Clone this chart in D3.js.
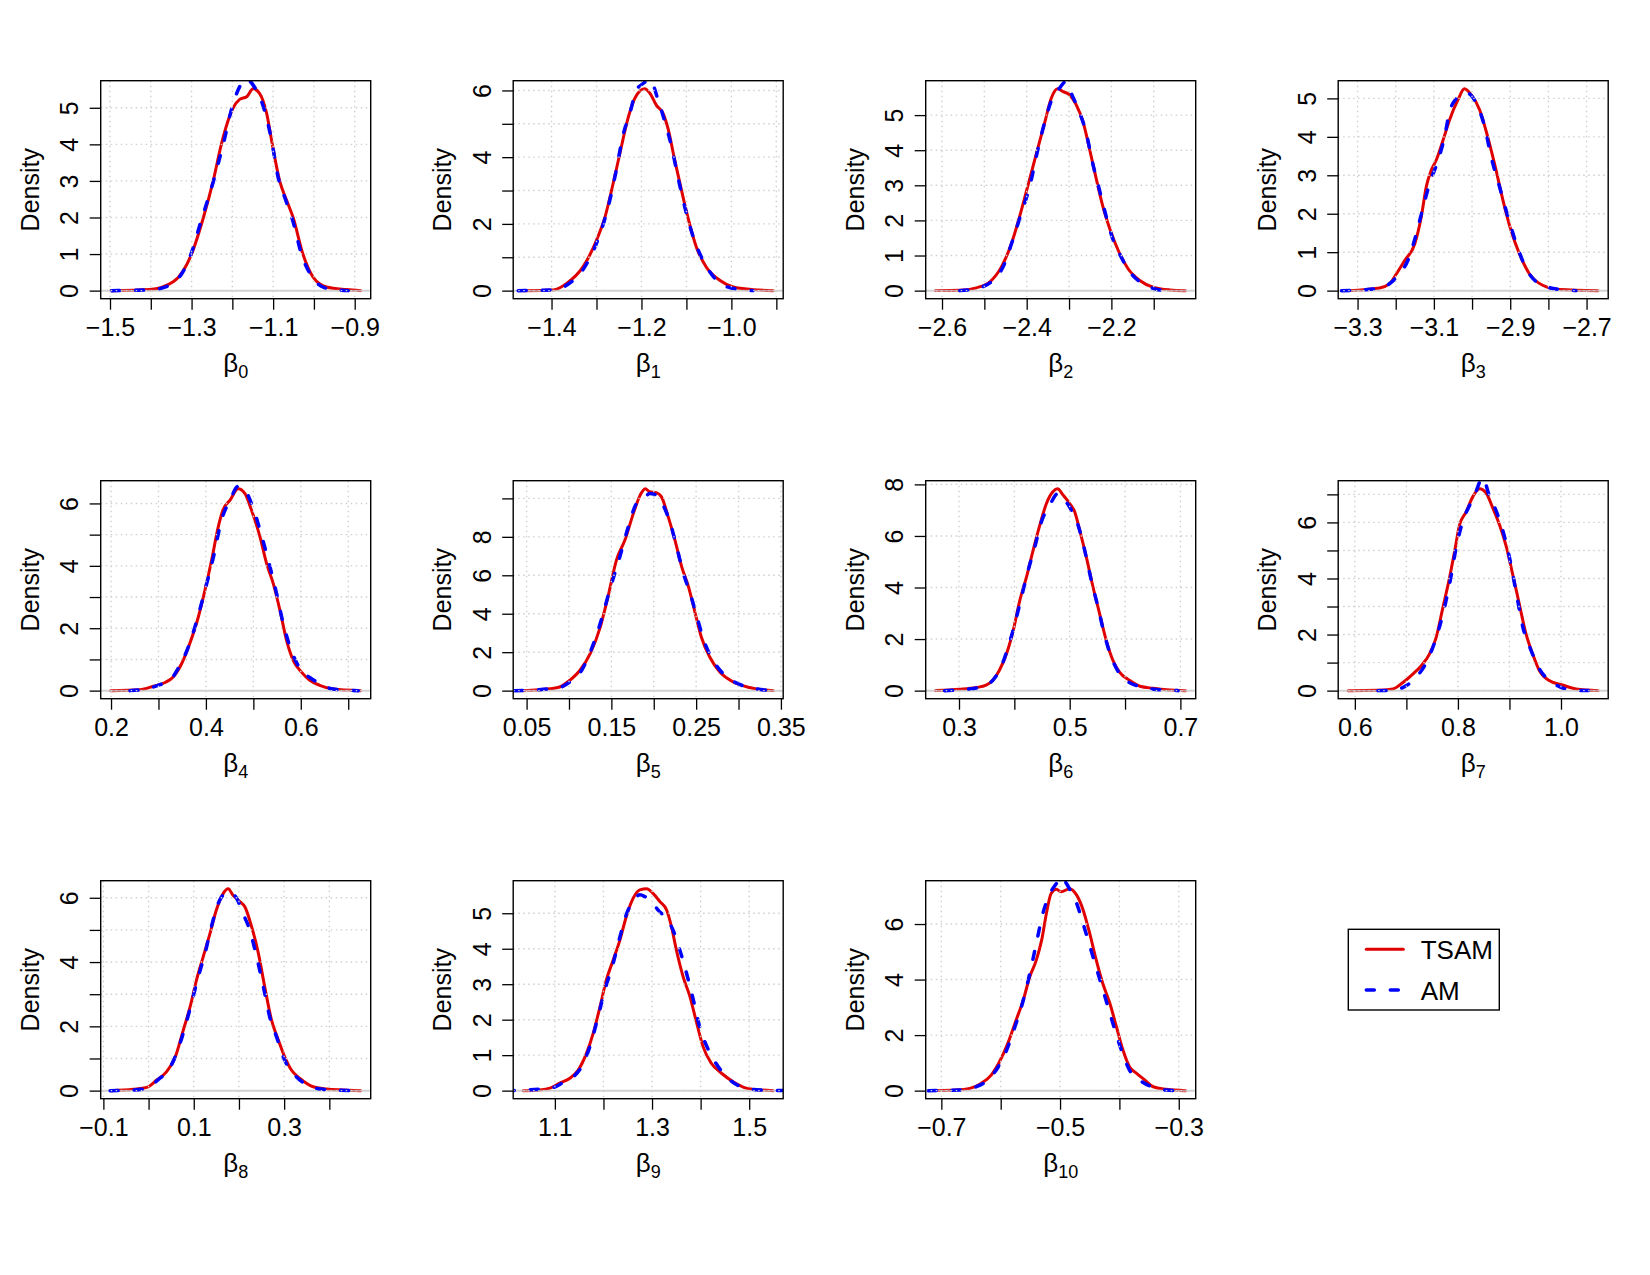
<!DOCTYPE html>
<html>
<head>
<meta charset="utf-8">
<script src="https://cdn.jsdelivr.net/npm/d3@7"></script>
<style>
  body { margin: 0; background: #fff; }
  text { font-family: "Liberation Sans", Arial, Helvetica, sans-serif; fill: #000; }
</style>
</head>
<body>
<svg id="chart" width="1650" height="1275"></svg>
<script>
// parameter subscripts (beta_0 ... beta_10)
const subscripts = ['0', '1', '2', '3', '4', '5', '6', '7', '8', '9', '10'];

// range of the TSAM density (R extends these by 4%)
const xlims = [
    [-1.4983, -0.8853], [-1.463, -0.907], [-2.6149, -2.0245], [-3.3245, -2.6695],
    [0.1993, 0.7263], [0.046, 0.3409], [0.2579, 0.7096], [0.5871, 1.0722],
    [-0.0838, 0.4694], [1.0348, 1.5494], [-0.7095, -0.2883]
];
const ymax = [5.52, 6.05, 5.75, 5.25, 6.47, 10.5, 7.83, 7.2, 6.28, 5.69, 7.27];

const xTicks = [
    [-1.5, -1.4, -1.3, -1.2, -1.1, -1.0, -0.9],
    [-1.4, -1.3, -1.2, -1.1, -1.0, -0.9],
    [-2.6, -2.5, -2.4, -2.3, -2.2, -2.1],
    [-3.3, -3.2, -3.1, -3.0, -2.9, -2.8, -2.7],
    [0.2, 0.3, 0.4, 0.5, 0.6, 0.7],
    [0.05, 0.10, 0.15, 0.20, 0.25, 0.30, 0.35],
    [0.3, 0.4, 0.5, 0.6, 0.7],
    [0.6, 0.7, 0.8, 0.9, 1.0],
    [-0.1, 0.0, 0.1, 0.2, 0.3, 0.4],
    [1.1, 1.2, 1.3, 1.4, 1.5],
    [-0.7, -0.6, -0.5, -0.4, -0.3]
];
const xLabels = [
    [-1.5, -1.3, -1.1, -0.9], [-1.4, -1.2, -1.0], [-2.6, -2.4, -2.2], [-3.3, -3.1, -2.9, -2.7],
    [0.2, 0.4, 0.6], [0.05, 0.15, 0.25, 0.35], [0.3, 0.5, 0.7], [0.6, 0.8, 1.0],
    [-0.1, 0.1, 0.3], [1.1, 1.3, 1.5], [-0.7, -0.5, -0.3]
];
const xDigits = [1, 1, 1, 1, 1, 2, 1, 1, 1, 1, 1];

const yTicks = [
    [0, 1, 2, 3, 4, 5], [0, 1, 2, 3, 4, 5, 6], [0, 1, 2, 3, 4, 5], [0, 1, 2, 3, 4, 5],
    [0, 1, 2, 3, 4, 5, 6], [0, 2, 4, 6, 8, 10], [0, 2, 4, 6, 8], [0, 1, 2, 3, 4, 5, 6, 7],
    [0, 1, 2, 3, 4, 5, 6], [0, 1, 2, 3, 4, 5], [0, 2, 4, 6]
];
const yLabels = [
    [0, 1, 2, 3, 4, 5], [0, 2, 4, 6], [0, 1, 2, 3, 4, 5], [0, 1, 2, 3, 4, 5],
    [0, 2, 4, 6], [0, 2, 4, 6, 8], [0, 2, 4, 6, 8], [0, 2, 4, 6],
    [0, 2, 4, 6], [0, 1, 2, 3, 4, 5], [0, 2, 4, 6]
];

// TSAM posterior densities, [value, density]
const tsam = [
    [[-1.498,0],[-1.402,0.03],[-1.345,0.24],[-1.300,1.0],[-1.271,2.0],[-1.247,3.0],[-1.227,4.0],[-1.198,5.0],[-1.182,5.23],[-1.165,5.30],[-1.149,5.52],[-1.133,5.39],[-1.116,4.85],[-1.102,4.0],[-1.084,3.0],[-1.067,2.47],[-1.051,2.0],[-1.027,1.0],[-1.002,0.37],[-0.969,0.10],[-0.920,0.03],[-0.885,0]],
    [[-1.463,0],[-1.396,0.02],[-1.367,0.21],[-1.330,0.71],[-1.300,1.51],[-1.281,2.21],[-1.263,3.21],[-1.248,4.11],[-1.230,5.16],[-1.215,5.76],[-1.193,6.05],[-1.181,5.91],[-1.167,5.56],[-1.152,5.31],[-1.141,4.86],[-1.126,3.91],[-1.111,3.01],[-1.096,2.16],[-1.078,1.31],[-1.056,0.71],[-1.026,0.31],[-0.996,0.11],[-0.952,0.03],[-0.907,0]],
    [[-2.615,0],[-2.558,0.01],[-2.519,0.08],[-2.487,0.25],[-2.460,0.67],[-2.436,1.34],[-2.417,2.10],[-2.397,3.0],[-2.377,3.91],[-2.357,4.81],[-2.342,5.48],[-2.327,5.75],[-2.314,5.67],[-2.298,5.57],[-2.283,5.29],[-2.267,4.81],[-2.251,4.0],[-2.235,3.15],[-2.220,2.39],[-2.204,1.77],[-2.184,1.15],[-2.161,0.63],[-2.133,0.29],[-2.102,0.10],[-2.062,0.02],[-2.025,0]],
    [[-3.3245,0],[-3.242,0.07],[-3.216,0.18],[-3.198,0.44],[-3.176,0.79],[-3.150,1.22],[-3.133,1.92],[-3.120,2.70],[-3.107,3.13],[-3.094,3.39],[-3.076,3.91],[-3.059,4.44],[-3.037,4.96],[-3.020,5.25],[-3.002,5.09],[-2.980,4.70],[-2.959,4.0],[-2.937,3.13],[-2.919,2.35],[-2.898,1.57],[-2.876,0.96],[-2.850,0.44],[-2.815,0.14],[-2.771,0.03],[-2.670,0]],
    [[0.1993,0],[0.261,0.03],[0.289,0.14],[0.314,0.26],[0.331,0.44],[0.349,0.87],[0.366,1.51],[0.384,2.36],[0.398,3.22],[0.412,4.18],[0.426,5.25],[0.436,5.79],[0.451,6.11],[0.468,6.47],[0.482,6.32],[0.496,5.79],[0.514,4.93],[0.528,4.07],[0.542,3.43],[0.556,2.58],[0.570,1.61],[0.584,0.97],[0.601,0.60],[0.619,0.33],[0.640,0.17],[0.668,0.05],[0.726,0]],
    [[0.046,0],[0.0775,0.10],[0.089,0.19],[0.101,0.54],[0.113,1.06],[0.125,1.93],[0.137,3.32],[0.146,4.88],[0.156,6.79],[0.166,7.83],[0.176,9.22],[0.184,10.17],[0.190,10.5],[0.195,10.35],[0.203,10.30],[0.209,10.09],[0.217,9.05],[0.225,7.83],[0.233,6.44],[0.241,5.40],[0.249,4.01],[0.256,2.80],[0.266,1.75],[0.278,0.97],[0.294,0.45],[0.313,0.16],[0.330,0.03],[0.341,0]],
    [[0.2579,0],[0.301,0.05],[0.331,0.12],[0.349,0.21],[0.361,0.40],[0.373,0.79],[0.386,1.44],[0.398,2.34],[0.410,3.51],[0.422,4.41],[0.434,5.45],[0.446,6.42],[0.458,7.26],[0.470,7.72],[0.478,7.83],[0.488,7.59],[0.500,7.26],[0.509,6.94],[0.518,6.23],[0.530,5.19],[0.542,4.03],[0.554,2.99],[0.566,1.95],[0.578,1.18],[0.590,0.72],[0.608,0.40],[0.627,0.17],[0.651,0.09],[0.675,0.03],[0.7096,0]],
    [[0.5871,0],[0.642,0.01],[0.674,0.06],[0.694,0.30],[0.713,0.60],[0.729,0.89],[0.745,1.31],[0.758,1.91],[0.771,2.98],[0.784,4.05],[0.794,5.01],[0.803,5.90],[0.816,6.38],[0.829,6.92],[0.842,7.2],[0.855,7.04],[0.868,6.50],[0.881,5.90],[0.894,5.13],[0.906,4.17],[0.919,3.10],[0.932,2.03],[0.945,1.31],[0.958,0.72],[0.977,0.36],[1.003,0.20],[1.029,0.06],[1.0722,0]],
    [[-0.0838,0],[-0.034,0.04],[-0.004,0.10],[0.018,0.33],[0.040,0.59],[0.058,1.01],[0.077,1.89],[0.092,2.61],[0.106,3.44],[0.121,4.17],[0.136,4.89],[0.150,5.62],[0.165,6.13],[0.176,6.28],[0.187,6.08],[0.202,5.88],[0.213,5.72],[0.228,5.10],[0.243,4.27],[0.257,3.23],[0.272,2.20],[0.287,1.58],[0.301,1.06],[0.316,0.64],[0.335,0.38],[0.364,0.12],[0.394,0.05],[0.430,0.02],[0.4694,0]],
    [[1.0348,0],[1.069,0.02],[1.090,0.07],[1.110,0.21],[1.131,0.35],[1.148,0.58],[1.165,1.05],[1.179,1.62],[1.193,2.37],[1.206,3.12],[1.220,3.68],[1.234,4.25],[1.248,4.95],[1.261,5.42],[1.275,5.66],[1.289,5.69],[1.302,5.56],[1.316,5.33],[1.330,5.09],[1.340,4.62],[1.350,3.97],[1.364,3.21],[1.378,2.65],[1.392,1.90],[1.405,1.24],[1.422,0.77],[1.443,0.49],[1.467,0.25],[1.494,0.07],[1.522,0.02],[1.5494,0]],
    [[-0.7095,0],[-0.675,0.02],[-0.652,0.08],[-0.633,0.26],[-0.616,0.56],[-0.602,1.04],[-0.588,1.70],[-0.574,2.54],[-0.562,3.26],[-0.551,4.10],[-0.540,4.70],[-0.531,5.42],[-0.523,6.38],[-0.515,7.10],[-0.506,7.25],[-0.498,7.16],[-0.484,7.27],[-0.472,7.04],[-0.461,6.50],[-0.450,5.66],[-0.439,4.70],[-0.428,3.86],[-0.416,3.14],[-0.405,2.30],[-0.394,1.46],[-0.383,0.86],[-0.371,0.62],[-0.357,0.38],[-0.343,0.14],[-0.321,0.05],[-0.2883,0]]
];

// AM posterior densities, [value, density]
const am = [
    [[-1.496,0],[-1.402,0.02],[-1.353,0.15],[-1.304,0.92],[-1.276,1.93],[-1.247,2.97],[-1.222,4.02],[-1.198,5.12],[-1.182,5.58],[-1.167,5.80],[-1.149,5.62],[-1.124,5.03],[-1.104,4.12],[-1.088,3.11],[-1.069,2.47],[-1.051,1.88],[-1.031,1.01],[-1.010,0.47],[-0.982,0.12],[-0.953,0.03],[-0.916,0]],
    [[-1.474,0],[-1.396,0.02],[-1.359,0.23],[-1.326,0.71],[-1.296,1.56],[-1.274,2.51],[-1.256,3.61],[-1.241,4.66],[-1.226,5.31],[-1.211,6.01],[-1.196,6.21],[-1.181,6.33],[-1.163,5.71],[-1.148,5.06],[-1.133,4.31],[-1.119,3.41],[-1.100,2.31],[-1.081,1.46],[-1.059,0.81],[-1.033,0.31],[-1.004,0.09],[-0.952,0]],
    [[-2.558,0],[-2.512,0.08],[-2.480,0.29],[-2.456,0.67],[-2.433,1.44],[-2.413,2.20],[-2.393,2.96],[-2.374,4.0],[-2.354,4.95],[-2.338,5.52],[-2.323,5.76],[-2.308,5.95],[-2.291,5.52],[-2.276,5.10],[-2.260,4.52],[-2.244,3.62],[-2.228,2.86],[-2.212,2.10],[-2.197,1.48],[-2.177,0.96],[-2.153,0.48],[-2.126,0.20],[-2.094,0.04],[-2.078,0]],
    [[-3.342,0],[-3.250,0.05],[-3.216,0.18],[-3.194,0.40],[-3.168,0.79],[-3.146,1.48],[-3.128,2.18],[-3.111,2.79],[-3.089,3.39],[-3.072,4.0],[-3.059,4.65],[-3.041,5.0],[-3.024,5.13],[-3.011,5.13],[-2.989,4.87],[-2.967,4.26],[-2.950,3.48],[-2.928,2.70],[-2.906,1.92],[-2.884,1.22],[-2.858,0.57],[-2.824,0.18],[-2.771,0.03],[-2.728,0]],
    [[0.240,0],[0.275,0.06],[0.303,0.19],[0.324,0.33],[0.345,0.81],[0.363,1.40],[0.381,2.26],[0.398,3.22],[0.416,4.29],[0.433,5.47],[0.451,6.11],[0.468,6.55],[0.482,6.43],[0.500,5.84],[0.518,4.93],[0.535,3.97],[0.549,3.11],[0.563,2.15],[0.580,1.29],[0.601,0.65],[0.622,0.39],[0.647,0.17],[0.668,0.05],[0.721,0]],
    [[0.036,0],[0.070,0.07],[0.089,0.16],[0.101,0.45],[0.115,1.06],[0.126,2.10],[0.138,3.66],[0.148,5.23],[0.160,6.96],[0.170,8.52],[0.180,9.74],[0.188,9.91],[0.195,10.26],[0.203,10.17],[0.211,9.65],[0.219,8.78],[0.227,7.48],[0.235,6.09],[0.243,5.05],[0.251,3.84],[0.259,2.62],[0.270,1.58],[0.286,0.71],[0.302,0.31],[0.321,0.09],[0.345,0]],
    [[0.274,0],[0.313,0.05],[0.343,0.16],[0.361,0.40],[0.376,0.92],[0.389,1.70],[0.401,2.60],[0.413,3.64],[0.425,4.67],[0.437,5.58],[0.449,6.55],[0.464,7.20],[0.479,7.65],[0.491,7.39],[0.503,7.0],[0.516,6.36],[0.527,5.45],[0.539,4.28],[0.551,3.25],[0.563,2.15],[0.575,1.31],[0.590,0.66],[0.608,0.31],[0.632,0.14],[0.663,0.03],[0.696,0]],
    [[0.645,0],[0.674,0.02],[0.700,0.18],[0.719,0.48],[0.739,1.01],[0.755,1.73],[0.771,2.74],[0.784,3.82],[0.797,5.13],[0.810,6.08],[0.823,6.62],[0.835,7.10],[0.848,7.6],[0.861,6.95],[0.874,6.42],[0.887,5.72],[0.900,4.75],[0.913,3.50],[0.926,2.27],[0.942,1.43],[0.958,0.78],[0.977,0.36],[1.000,0.12],[1.029,0.01],[1.061,0]],
    [[-0.085,0],[-0.034,0.02],[-0.004,0.07],[0.022,0.35],[0.044,0.64],[0.062,1.16],[0.081,1.99],[0.095,2.72],[0.110,3.54],[0.125,4.27],[0.139,5.10],[0.154,5.82],[0.169,6.13],[0.180,6.18],[0.195,5.98],[0.209,5.51],[0.224,4.99],[0.239,4.17],[0.254,3.23],[0.268,2.30],[0.283,1.68],[0.301,0.95],[0.320,0.54],[0.342,0.25],[0.371,0.07],[0.408,0.02],[0.445,0]],
    [[1.000,0],[1.069,0.04],[1.097,0.09],[1.117,0.23],[1.138,0.39],[1.155,0.68],[1.172,1.24],[1.189,2.09],[1.203,2.84],[1.220,3.59],[1.234,4.34],[1.248,5.00],[1.261,5.33],[1.275,5.52],[1.285,5.47],[1.299,5.33],[1.313,5.08],[1.330,4.85],[1.344,4.50],[1.357,3.97],[1.371,3.31],[1.385,2.56],[1.398,1.80],[1.416,1.15],[1.436,0.68],[1.460,0.30],[1.488,0.09],[1.522,0.02],[1.590,0]],
    [[-0.722,0],[-0.669,0.02],[-0.641,0.14],[-0.622,0.38],[-0.604,0.86],[-0.590,1.46],[-0.576,2.30],[-0.565,3.02],[-0.551,4.22],[-0.540,5.30],[-0.529,6.38],[-0.517,7.10],[-0.506,7.46],[-0.498,7.7],[-0.489,7.45],[-0.480,7.1],[-0.473,6.8],[-0.461,6.0],[-0.447,5.0],[-0.433,4.0],[-0.419,3.0],[-0.405,2.0],[-0.394,1.3],[-0.383,0.74],[-0.366,0.38],[-0.343,0.12],[-0.321,0.02],[-0.298,0]]
];

const seriesNames = ['TSAM', 'AM'];

const RED = '#e00000', BLUE = '#0000ff';
const W = 270, H = 218;          // plot box
const left0 = 100.7, top0 = 80.7, stepX = 412.5, stepY = 400;
const FS = 25;

const svg = d3.select('#chart');
svg.append('rect').attr('width', 1650).attr('height', 1275).attr('fill', '#fff');

// R pads the axis range by 4% on each side
let pad = ([a, b]) => [a - 0.04 * (b - a), b + 0.04 * (b - a)];

subscripts.forEach((sub, i) => {
    let x0 = left0 + (i % 4) * stepX,
        y0 = top0 + Math.floor(i / 4) * stepY;

    let g = svg.append('g').attr('transform', `translate(${x0},${y0})`);

    let x = d3.scaleLinear().domain(pad(xlims[i])).range([0, W]),
        y = d3.scaleLinear().domain(pad([0, ymax[i]])).range([H, 0]);

    g.append('clipPath').attr('id', 'clip' + i)
        .append('rect').attr('width', W).attr('height', H);

    let plot = g.append('g').attr('clip-path', `url(#clip${i})`);

    let line = d3.line()
        .x(d => x(d[0]))
        .y(d => y(d[1]))
        .curve(d3.curveMonotoneX);

    plot.append('path')
        .attr('d', line(tsam[i]))
        .attr('fill', 'none')
        .attr('stroke', RED)
        .attr('stroke-width', 3)
        .attr('stroke-linejoin', 'round')
        .attr('stroke-linecap', 'round');

    // zero line from plot.density
    plot.append('line')
        .attr('x1', 0).attr('x2', W)
        .attr('y1', y(0)).attr('y2', y(0))
        .attr('stroke', '#c4c4c4')
        .attr('stroke-opacity', 0.75)
        .attr('stroke-width', 2);

    plot.append('path')
        .attr('d', line(am[i]))
        .attr('fill', 'none')
        .attr('stroke', BLUE)
        .attr('stroke-width', 3.5)
        .attr('stroke-dasharray', '8,16')
        .attr('stroke-linecap', 'round');

    // grid() goes on last
    plot.selectAll('line.vgrid')
        .data(xTicks[i])
        .enter().append('line')
            .attr('class', 'vgrid')
            .attr('x1', d => x(d)).attr('x2', d => x(d))
            .attr('y1', 0).attr('y2', H);

    plot.selectAll('line.hgrid')
        .data(yTicks[i])
        .enter().append('line')
            .attr('class', 'hgrid')
            .attr('x1', 0).attr('x2', W)
            .attr('y1', d => y(d)).attr('y2', d => y(d));

    plot.selectAll('line.vgrid, line.hgrid')
        .attr('stroke', '#cfcfcf')
        .attr('stroke-width', 1.4)
        .attr('stroke-dasharray', '1.5,3.5');

    // x axis
    let fmt = d3.format('.' + xDigits[i] + 'f');
    let xAxis = g.append('g')
        .attr('transform', `translate(0,${H})`)
        .call(d3.axisBottom(x)
            .tickValues(xTicks[i])
            .tickSize(11)
            .tickFormat(d => xLabels[i].some(v => Math.abs(v - d) < 1e-9) ? fmt(d) : ''));
    xAxis.select('.domain').remove();
    xAxis.selectAll('line').attr('stroke', '#000').attr('stroke-width', 1.3);
    xAxis.selectAll('text')
        .attr('y', 37.5).attr('dy', null)
        .attr('font-size', FS)
        .attr('fill', '#000');

    // y axis, labels parallel to the axis
    let yAxis = g.append('g')
        .call(d3.axisLeft(y)
            .tickValues(yTicks[i])
            .tickSize(11)
            .tickFormat(d => yLabels[i].includes(d) ? d3.format('d')(d) : ''));
    yAxis.select('.domain').remove();
    yAxis.selectAll('line').attr('stroke', '#000').attr('stroke-width', 1.3);
    yAxis.selectAll('text')
        .attr('x', null).attr('dy', null)
        .attr('transform', 'translate(-22.4,0) rotate(-90)')
        .attr('text-anchor', 'middle')
        .attr('font-size', FS)
        .attr('fill', '#000');

    // box
    g.append('rect')
        .attr('width', W).attr('height', H)
        .attr('fill', 'none')
        .attr('stroke', '#000')
        .attr('stroke-width', 1.4);

    g.append('text')
        .attr('transform', `translate(-62,${H / 2}) rotate(-90)`)
        .attr('text-anchor', 'middle')
        .attr('font-size', FS)
        .text('Density');

    let lab = g.append('text')
        .attr('x', W / 2)
        .attr('y', H + 73.5)
        .attr('text-anchor', 'middle')
        .attr('font-size', 26);
    lab.append('tspan').text('β');
    lab.append('tspan').attr('dy', 6).attr('font-size', 18).text(sub);
});

// legend
let legend = svg.append('g').attr('transform', 'translate(1348.3,929.3)');
legend.append('rect')
    .attr('width', 151).attr('height', 80.7)
    .attr('fill', '#fff')
    .attr('stroke', '#000')
    .attr('stroke-width', 1.4);

let items = legend.selectAll('g.item')
    .data(seriesNames)
    .enter().append('g')
        .attr('class', 'item')
        .attr('transform', (d, k) => `translate(0,${20 + k * 40.7})`);

items.append('line')
    .attr('x1', 18).attr('x2', 55)
    .attr('stroke', (d, k) => k ? BLUE : RED)
    .attr('stroke-width', (d, k) => k ? 3.5 : 3)
    .attr('stroke-dasharray', (d, k) => k ? '8,16' : null)
    .attr('stroke-linecap', 'round');

items.append('text')
    .attr('x', 72.4)
    .attr('y', 10)
    .attr('font-size', 26)
    .text(d => d);
</script>
</body>
</html>
